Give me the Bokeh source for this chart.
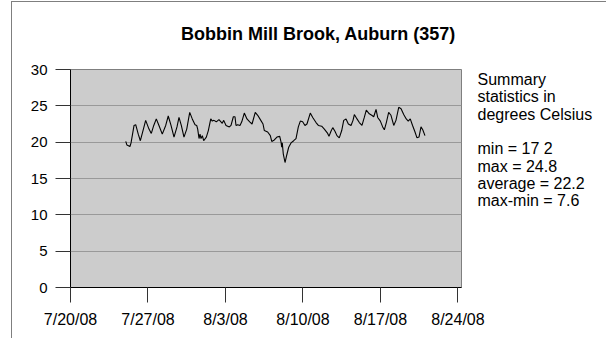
from bokeh.plotting import figure
from bokeh.models import Range1d, FixedTicker, LinearAxis
from bokeh.embed import file_html
from bokeh.resources import INLINE

# Days since 7/20/08 00:00 and water temperature (deg C)
days_since_jul20 = [
    4.99, 5.10, 5.37, 5.47, 5.74, 5.89, 6.12, 6.31, 6.55, 6.79,
    7.09, 7.30, 7.52, 7.75, 7.99, 8.29, 8.60, 8.83, 9.08, 9.35,
    9.62, 9.80, 10.01, 10.25, 10.50, 10.77, 11.00, 11.25, 11.40, 11.49,
    11.61, 11.70, 11.79, 11.91, 12.03, 12.27, 12.45, 12.67, 12.81, 12.96,
    13.17, 13.41, 13.71, 13.84, 14.05, 14.35, 14.50, 14.71, 14.86, 14.95,
    15.10, 15.31, 15.47, 15.70, 15.94, 16.19, 16.40, 16.69, 16.91, 17.15,
    17.39, 17.51, 17.81, 18.05, 18.18, 18.41, 18.65, 18.90, 19.02, 19.08,
    19.13, 19.22, 19.38, 19.53, 19.71, 19.92, 20.16, 20.37, 20.58, 20.76,
    20.97, 21.18, 21.36, 21.66, 21.88, 22.18, 22.39, 22.69, 22.93, 23.23,
    23.35, 23.53, 23.69, 23.89, 24.07, 24.28, 24.50, 24.68, 24.89, 25.10,
    25.34, 25.52, 25.64, 25.88, 26.09, 26.33, 26.54, 26.72, 26.99, 27.21,
    27.39, 27.60, 27.75, 27.99, 28.20, 28.35, 28.53, 28.74, 28.95, 29.20,
    29.40, 29.65, 29.86, 30.10, 30.33, 30.51, 30.69, 30.90, 31.12, 31.30,
    31.48, 31.66, 31.82, 32.02,
]
temp_c = [
    20.1, 19.6, 19.4, 19.9, 22.3, 22.4, 21.1, 20.2, 21.6, 23.0,
    21.8, 21.2, 22.3, 23.2, 22.3, 21.1, 22.3, 23.6, 22.3, 20.7,
    22.1, 23.4, 22.3, 20.7, 21.8, 24.1, 23.2, 22.4, 22.3, 21.8,
    20.5, 21.1, 20.5, 20.9, 20.2, 20.7, 21.6, 23.2, 22.9, 23.0,
    22.8, 23.1, 22.6, 23.0, 22.3, 22.1, 22.3, 23.5, 23.5, 22.3,
    22.4, 22.3, 22.8, 24.0, 23.2, 22.8, 22.5, 24.1, 23.7, 23.1,
    22.5, 21.6, 21.4, 20.9, 20.1, 20.3, 20.7, 20.8, 20.0, 19.3,
    19.9, 18.4, 17.2, 18.2, 19.3, 19.9, 20.2, 20.5, 22.1, 22.9,
    22.8, 22.3, 22.5, 24.0, 23.4, 22.7, 22.3, 22.2, 21.8, 21.2,
    20.8, 21.5, 22.0, 21.5, 20.9, 20.6, 21.6, 23.0, 23.2, 22.5,
    22.3, 23.0, 23.8, 23.2, 22.7, 22.3, 23.4, 24.4, 23.9, 23.7,
    23.5, 24.5, 23.4, 22.9, 22.1, 21.7, 22.7, 24.1, 23.7, 22.3,
    23.0, 24.8, 24.6, 23.8, 23.2, 22.9, 23.2, 22.3, 21.4, 20.6,
    20.7, 22.1, 21.7, 20.9,
]

x_tick_days = [0, 7, 14, 21, 28, 35]
x_tick_labels = ["7/20/08", "7/27/08", "8/3/08", "8/10/08", "8/17/08", "8/24/08"]
y_ticks = [0, 5, 10, 15, 20, 25, 30]

title_text = "Bobbin Mill Brook, Auburn (357)"
summary_lines = [
    "Summary",
    "statistics in",
    "degrees Celsius",
    "",
    "min = 17 2",
    "max = 24.8",
    "average = 22.2",
    "max-min = 7.6",
]

FONT = "Liberation Sans"

p = figure(
    width=595, height=337, margin=(1, 0, 0, 11),
    output_backend="svg", toolbar_location=None,
    x_range=Range1d(0, 35.32), y_range=Range1d(0, 30),
    min_border_left=58, min_border_right=146,
    min_border_top=67, min_border_bottom=52,
    styles={"border-left": "1px solid #7f7f7f", "border-top": "1px solid #7f7f7f"},
)
p.background_fill_color = "#cccccc"
p.border_fill_color = "white"
p.outline_line_color = "#7f7f7f"
p.outline_line_width = 1

p.xgrid.visible = False
p.ygrid.grid_line_color = "#999999"
p.ygrid.grid_line_width = 1

for ax in (p.xaxis[0], p.yaxis[0]):
    ax.axis_line_color = "black"
    ax.axis_line_width = 1
    ax.major_tick_line_color = "#333333"
    ax.major_tick_out = 15
    ax.major_tick_in = 0
    ax.minor_tick_line_color = None
    ax.major_label_text_font = FONT
    ax.major_label_text_color = "black"

p.xaxis.ticker = FixedTicker(ticks=x_tick_days)
p.xaxis.major_label_overrides = {d: lbl for d, lbl in zip(x_tick_days, x_tick_labels)}
p.xaxis.major_label_standoff = 8
p.xaxis.major_label_text_font_size = "16px"
p.yaxis.ticker = FixedTicker(ticks=y_ticks)
p.yaxis.major_label_standoff = 8
p.yaxis.major_label_text_font_size = "15px"

p.line(days_since_jul20, temp_c, line_color="black", line_width=1.1)

# Text panels drawn as tick labels of unlined axes (Labels are clipped to the frame)
LINE_PX = 17.3
frame_h = 218.0
first_line_px = 10.0
p.extra_y_ranges = {"txt": Range1d(start=(frame_h - first_line_px) / LINE_PX,
                                   end=-first_line_px / LINE_PX)}
text_ticks = [i for i, s in enumerate(summary_lines) if s]
txt_axis = LinearAxis(
    y_range_name="txt",
    ticker=FixedTicker(ticks=text_ticks),
    major_label_overrides={i: summary_lines[i] for i in text_ticks},
    axis_line_color=None, major_tick_line_color=None, minor_tick_line_color=None,
    major_tick_out=0, major_tick_in=0, major_label_standoff=16,
    major_label_text_font=FONT, major_label_text_font_size="16px",
    major_label_text_color="black",
)
p.add_layout(txt_axis, "right")

frame_w = 391.0
title_center_px = 248.0
p.extra_x_ranges = {"ttl": Range1d(start=-title_center_px, end=frame_w - title_center_px)}
ttl_axis = LinearAxis(
    x_range_name="ttl",
    ticker=FixedTicker(ticks=[0]),
    major_label_overrides={0: title_text},
    axis_line_color=None, major_tick_line_color=None, minor_tick_line_color=None,
    major_tick_out=0, major_tick_in=0, major_label_standoff=26,
    major_label_text_font=FONT, major_label_text_font_size="18px",
    major_label_text_font_style="bold", major_label_text_color="black",
)
p.add_layout(ttl_axis, "above")

open("out.html", "w").write(file_html(p, INLINE))
